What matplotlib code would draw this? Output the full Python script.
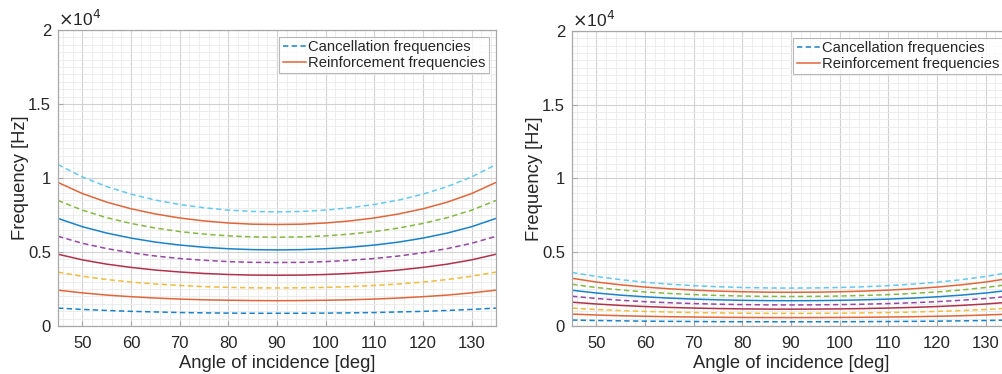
import matplotlib
matplotlib.use("Agg")
import matplotlib.pyplot as plt
from matplotlib.ticker import MultipleLocator, FuncFormatter
from matplotlib.lines import Line2D

plt.rcParams['font.family'] = ['Liberation Sans', 'DejaVu Sans']

angles = [45, 50, 55, 60, 65, 70, 75, 80, 85, 90, 95, 100, 105, 110, 115, 120, 125, 130, 135]

# Left panel: cancellation (dashed) and reinforcement (solid) frequencies [Hz]
left_cancel = [
    [1210, 1120, 1050, 990, 950, 910, 890, 870, 860, 860, 860, 870, 890, 910, 950, 990, 1050, 1120, 1210],
    [3640, 3360, 3140, 2970, 2840, 2740, 2660, 2610, 2580, 2570, 2580, 2610, 2660, 2740, 2840, 2970, 3140, 3360, 3640],
    [6060, 5590, 5230, 4950, 4730, 4560, 4440, 4350, 4300, 4290, 4300, 4350, 4440, 4560, 4730, 4950, 5230, 5590, 6060],
    [8480, 7830, 7320, 6930, 6620, 6380, 6210, 6090, 6020, 6000, 6020, 6090, 6210, 6380, 6620, 6930, 7320, 7830, 8480],
    [10910, 10070, 9420, 8910, 8510, 8210, 7990, 7830, 7740, 7710, 7740, 7830, 7990, 8210, 8510, 8910, 9420, 10070, 10910],
]
left_reinf = [
    [2420, 2240, 2090, 1980, 1890, 1820, 1770, 1740, 1720, 1710, 1720, 1740, 1770, 1820, 1890, 1980, 2090, 2240, 2420],
    [4850, 4470, 4180, 3960, 3780, 3650, 3550, 3480, 3440, 3430, 3440, 3480, 3550, 3650, 3780, 3960, 4180, 4470, 4850],
    [7270, 6710, 6280, 5940, 5670, 5470, 5320, 5220, 5160, 5140, 5160, 5220, 5320, 5470, 5670, 5940, 6280, 6710, 7270],
    [9700, 8950, 8370, 7920, 7570, 7300, 7100, 6960, 6880, 6860, 6880, 6960, 7100, 7300, 7570, 7920, 8370, 8950, 9700],
]

# Right panel
right_cancel = [
    [404, 373, 349, 330, 315, 304, 296, 290, 287, 286, 287, 290, 296, 304, 315, 330, 349, 373, 404],
    [1212, 1119, 1046, 990, 946, 912, 887, 870, 860, 857, 860, 870, 887, 912, 946, 990, 1046, 1119, 1212],
    [2020, 1865, 1744, 1649, 1576, 1520, 1479, 1450, 1434, 1428, 1434, 1450, 1479, 1520, 1576, 1649, 1744, 1865, 2020],
    [2828, 2611, 2442, 2309, 2207, 2128, 2071, 2031, 2008, 2000, 2008, 2031, 2071, 2128, 2207, 2309, 2442, 2611, 2828],
    [3636, 3356, 3139, 2969, 2837, 2736, 2662, 2611, 2581, 2571, 2581, 2611, 2662, 2736, 2837, 2969, 3139, 3356, 3636],
]
right_reinf = [
    [808, 746, 697, 660, 630, 608, 591, 580, 574, 571, 574, 580, 591, 608, 630, 660, 697, 746, 808],
    [1616, 1492, 1395, 1319, 1261, 1216, 1183, 1160, 1147, 1143, 1147, 1160, 1183, 1216, 1261, 1319, 1395, 1492, 1616],
    [2424, 2237, 2092, 1979, 1891, 1824, 1775, 1740, 1721, 1714, 1721, 1740, 1775, 1824, 1891, 1979, 2092, 2237, 2424],
    [3232, 2983, 2790, 2639, 2522, 2432, 2366, 2321, 2294, 2285, 2294, 2321, 2366, 2432, 2522, 2639, 2790, 2983, 3232],
]

cancel_colors = ['#1a82c8', '#F0BC3C', '#9547A3', '#85B843', '#66C8F0']
reinf_colors = ['#E0663A', '#B0324A', '#1a82c8', '#E0663A']

legend_labels = ['Cancellation frequencies', 'Reinforcement frequencies']
xlabel = 'Angle of incidence [deg]'
ylabel = 'Frequency [Hz]'

TXT = '#262626'
DASH = (0, (3.5, 2.2))

fig = plt.figure(figsize=(10.02, 3.74), dpi=100)
axL = fig.add_axes([58/1002, 48/374, 438/1002, 296/374])
axR = fig.add_axes([572/1002, 48/374, 438/1002, 295/374])

def draw(ax, cancel, reinf):
    for vals, c in zip(cancel, cancel_colors):
        ax.plot(angles, vals, color=c, lw=1.1, ls=DASH)
    for vals, c in zip(reinf, reinf_colors):
        ax.plot(angles, vals, color=c, lw=1.1, ls='-')
    ax.set_xlim(45, 135)
    ax.set_ylim(0, 20000)
    ax.xaxis.set_major_locator(MultipleLocator(10))
    ax.xaxis.set_minor_locator(MultipleLocator(2))
    ax.yaxis.set_major_locator(MultipleLocator(5000))
    ax.yaxis.set_minor_locator(MultipleLocator(500))
    ax.yaxis.set_major_formatter(FuncFormatter(lambda v, p: ('%g' % (v / 1e4))))
    ax.grid(which='major', color='#d2d2d2', lw=0.8)
    ax.grid(which='minor', color='#eaeaea', lw=0.6)
    ax.set_axisbelow(True)
    for s in ax.spines.values():
        s.set_color('#a8a8a8')
        s.set_linewidth(0.9)
    ax.tick_params(which='both', direction='in', colors='#a8a8a8', labelcolor=TXT, labelsize=12)
    ax.tick_params(which='major', length=3.5, pad=5)
    ax.tick_params(which='minor', length=0)
    ax.tick_params(axis='x', pad=7)
    ax.set_xlabel(xlabel, fontsize=13.2, color=TXT, labelpad=3)
    ax.set_ylabel(ylabel, fontsize=13.2, color=TXT, labelpad=-1)
    ax.text(0.0, 1.004, r'$\times$10$^4$', transform=ax.transAxes, fontsize=12.5,
            color=TXT, ha='left', va='bottom')
    handles = [Line2D([], [], color=cancel_colors[0], lw=1.1, ls=DASH),
               Line2D([], [], color=reinf_colors[0], lw=1.1)]
    leg = ax.legend(handles, legend_labels, loc='upper right', fontsize=10.6,
                    frameon=True, fancybox=False, borderpad=0.25, labelspacing=0.1,
                    handlelength=1.6, handletextpad=0.15, borderaxespad=0.45)
    leg.get_frame().set_edgecolor('#a8a8a8')
    leg.get_frame().set_linewidth(0.8)
    for t in leg.get_texts():
        t.set_color(TXT)

draw(axL, left_cancel, left_reinf)
draw(axR, right_cancel, right_reinf)

fig.savefig('out.png', dpi=100, facecolor='white')
